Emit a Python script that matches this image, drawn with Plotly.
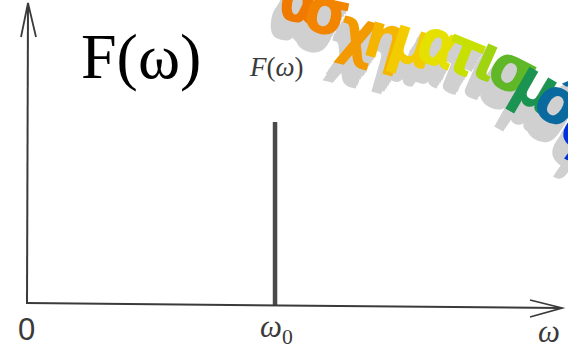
import plotly.graph_objects as go

# ---- data ----
omega0 = 1.0          # position of the spectral line
amplitude = 1.0       # height of F(omega) at omega0
x_range = [0, 2.157]
y_range = [0, 1.65]

tick_labels = ["0", "<i>ω</i><sub>0</sub>", "<i>ω</i>"]
title_text = "F(ω)"
curve_label = "<i>F</i>(<i>ω</i>)"
wordart_text = "Μετασχηματισμός"
wordart_first_visible = 3

# ---- layout geometry (pixels) ----
W, H = 568, 354
L, R, T, B = 27, 6, 3, 49
PW, PH = W - L - R, H - T - B


def px(x):
    return (x - L) / PW


def py(y):
    return (H - B - y) / PH


fig = go.Figure()

# spectral line
fig.add_trace(go.Scatter(
    x=[omega0, omega0], y=[0, amplitude], mode="lines",
    line=dict(color="#4a4a4a", width=4.5), hoverinfo="skip", showlegend=False,
))

shapes = []
axis_col = "#3a3a3a"
# y axis + arrow
shapes.append(dict(type="line", xref="paper", yref="paper",
                   x0=px(27), y0=py(304), x1=px(28), y1=py(4),
                   line=dict(color=axis_col, width=2)))
shapes.append(dict(type="path", xref="paper", yref="paper",
                   path=f"M {px(21)},{py(37)} L {px(28)},{py(3)} L {px(36)},{py(37)}",
                   line=dict(color=axis_col, width=1.8)))
# x axis + arrow
shapes.append(dict(type="line", xref="paper", yref="paper",
                   x0=px(26), y0=py(303), x1=px(561), y1=py(308),
                   line=dict(color=axis_col, width=2)))
shapes.append(dict(type="path", xref="paper", yref="paper",
                   path=f"M {px(530)},{py(300)} L {px(562)},{py(308)} L {px(530)},{py(317)}",
                   line=dict(color=axis_col, width=1.8)))

ann = []
# tick labels
ann.append(dict(x=px(26), y=py(329), text=tick_labels[0],
                font=dict(family="Liberation Sans", size=31, color="#3a3a3a")))
ann.append(dict(x=px(276), y=py(329), text=tick_labels[1],
                font=dict(family="Liberation Serif", size=31, color="#3a3a3a")))
ann.append(dict(x=px(549), y=py(331), text=tick_labels[2],
                font=dict(family="Liberation Serif", size=31, color="#3a3a3a")))
# labels
ann.append(dict(x=px(141), y=py(56), text=title_text,
                font=dict(family="Liberation Serif", size=64, color="#000000")))
ann.append(dict(x=px(276), y=py(67), text=curve_label,
                font=dict(family="Liberation Serif", size=27, color="#3a3a3a")))

# word-art (letters along an arc), starting with the first visible letter
letter_pos = [(300, 0), (327, 12), (358, 32), (386, 38), (412, 42), (439, 44),
              (465, 52), (489, 58), (513, 70), (537, 86), (558, 102), (582, 128)]
letter_ang = [10, 12, 14, 16, 18, 20, 22, 24, 27, 30, 33, 36]
letter_col = ["#f07a00", "#f28400", "#f39a00", "#f5b400", "#f2cc00", "#e6e000",
              "#c8e000", "#a0d410", "#60b828", "#1a9450", "#0a6aa0", "#0030e0"]
visible = wordart_text[wordart_first_visible:]
wa_font = "Liberation Sans Narrow, DejaVu Sans Condensed, Liberation Sans"
for k in range(6, 0, -1):
    dx, dy = -1.8 * k, 3.0 * k
    for ch, (lx, ly), a in zip(visible, letter_pos, letter_ang):
        ann.append(dict(x=px(lx + dx), y=py(ly + dy), text=ch, textangle=a,
                        font=dict(family=wa_font, size=64, color="#d0d0d0", weight="bold")))
for ch, (lx, ly), a, c in zip(visible, letter_pos, letter_ang, letter_col):
    ann.append(dict(x=px(lx), y=py(ly), text=ch, textangle=a,
                    font=dict(family=wa_font, size=64, color=c, weight="bold")))

for a in ann:
    a.update(xref="paper", yref="paper", showarrow=False,
             xanchor="center", yanchor="middle")

fig.update_layout(
    width=W, height=H,
    margin=dict(l=L, r=R, t=T, b=B),
    paper_bgcolor="white", plot_bgcolor="white",
    xaxis=dict(range=x_range, visible=False, fixedrange=True),
    yaxis=dict(range=y_range, visible=False, fixedrange=True),
    shapes=shapes, annotations=ann, showlegend=False,
)

fig.write_html("out.html", config={"displayModeBar": False})
